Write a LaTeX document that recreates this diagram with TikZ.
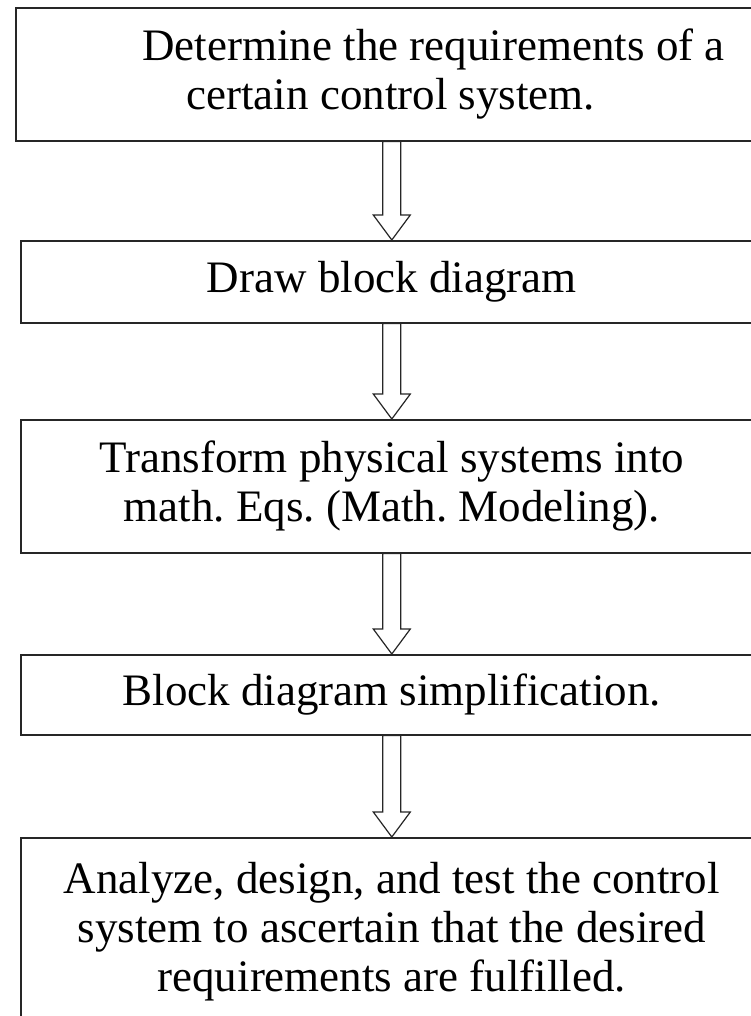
\documentclass[tikz,border=0pt]{standalone}
\usepackage{fontspec}
\setmainfont{Liberation Serif}
\frenchspacing

\newcommand{\hollowarrow}[2]{%
  \draw[arrowline] ([xshift=-9pt]#2.north |- #1.south) -- ([xshift=-9pt,yshift=25pt]#2.north)
    -- ([xshift=-18.5pt,yshift=25pt]#2.north) -- (#2.north)
    -- ([xshift=18.5pt,yshift=25pt]#2.north) -- ([xshift=9pt,yshift=25pt]#2.north)
    -- ([xshift=9pt]#2.north |- #1.south) -- cycle;}

\begin{document}
\begin{tikzpicture}[x=1pt, y=-1pt,
  stepbox/.style={draw=black!85, line width=1.6pt, fill=white, inner sep=0pt,
    anchor=north west, align=center,
    font=\fontsize{45}{49}\selectfont},
  arrowline/.style={draw=black!85, line width=1.2pt, fill=white, line join=miter}]
\clip (0,0) rectangle (751,1016);
\fill[white] (0,0) rectangle (751,1016);
% the five steps
\node[stepbox, minimum width=750pt, minimum height=133pt] (req) at (15,7) {\hspace*{1.9em}Determine the requirements of a\\certain control system.};
\node[stepbox, minimum width=742pt, minimum height=82pt] (draw) at (20,240) {Draw block diagram};
\node[stepbox, minimum width=742pt, minimum height=133pt] (model) at (20,419) {Transform physical systems into\\math. Eqs. (Math. Modeling).};
\node[stepbox, minimum width=742pt, minimum height=80pt] (simp) at (20,654) {Block diagram simplification.};
\node[stepbox, minimum width=742pt, minimum height=188pt] (test) at (20,837) {Analyze, design, and test the control\\system to ascertain that the desired\\requirements are fulfilled.};
% arrows between the steps
\hollowarrow{req}{draw}
\hollowarrow{draw}{model}
\hollowarrow{model}{simp}
\hollowarrow{simp}{test}
\end{tikzpicture}
\end{document}
